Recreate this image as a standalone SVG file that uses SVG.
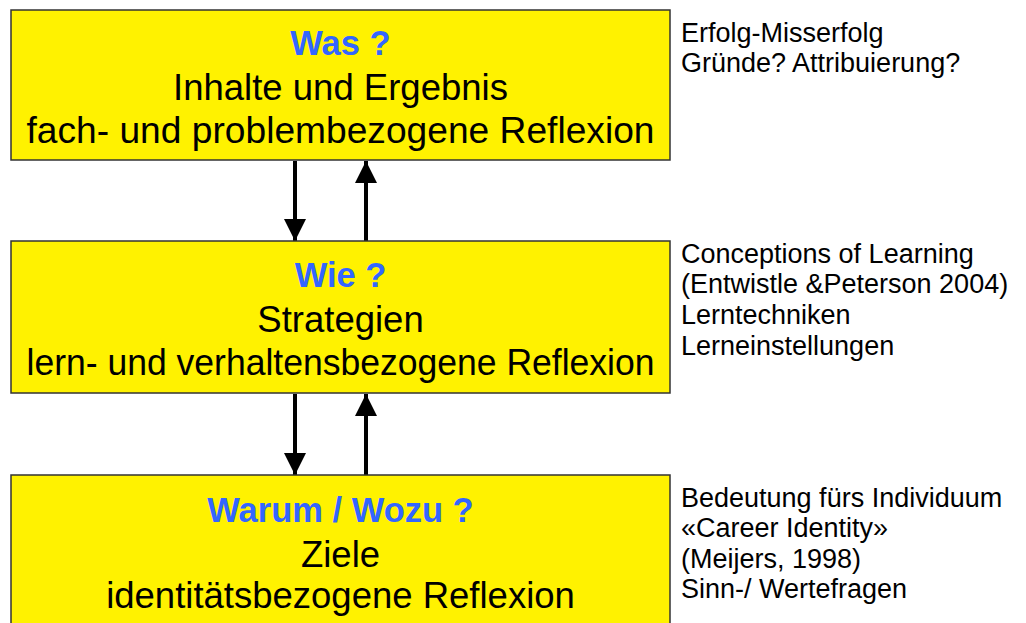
<svg xmlns="http://www.w3.org/2000/svg" width="1026" height="623" viewBox="0 0 1026 623">
<defs>
<style>
.box{fill:#FFF200;stroke:#333333;stroke-width:1.5}
.h{font-family:"Liberation Sans",Arial,sans-serif;font-weight:bold;font-size:34.5px;fill:#3366FF;text-anchor:middle}
.t{font-family:"Liberation Sans",Arial,sans-serif;font-size:36.5px;fill:#000;text-anchor:middle}
.n{font-family:"Liberation Sans",Arial,sans-serif;font-size:27px;fill:#000}
.c{stroke:#000;stroke-width:4;fill:none}
</style>
<marker id="ah" viewBox="0 0 22 22" refX="22" refY="11" markerWidth="22" markerHeight="22" markerUnits="userSpaceOnUse" orient="auto">
<path d="M0,0 L22,11 L0,22 Z" fill="#000"/>
</marker>
</defs>
<rect width="1026" height="623" fill="#fff"/>
<g id="connectors">
<line class="c" x1="295" y1="161" x2="295" y2="241" marker-end="url(#ah)"/>
<line class="c" x1="366" y1="241" x2="366" y2="161" marker-end="url(#ah)"/>
<line class="c" x1="295" y1="394" x2="295" y2="475" marker-end="url(#ah)"/>
<line class="c" x1="366" y1="475" x2="366" y2="394" marker-end="url(#ah)"/>
</g>
<g id="node-was">
<rect class="box" x="11" y="10" width="659" height="150"/>
<text class="h" x="340.5" y="55">Was ?</text>
<text class="t" x="340.5" y="100">Inhalte und Ergebnis</text>
<text class="t" x="340.5" y="143" textLength="628" lengthAdjust="spacingAndGlyphs">fach- und problembezogene Reflexion</text>
</g>
<g id="node-wie">
<rect class="box" x="11" y="241" width="659" height="152"/>
<text class="h" x="340.5" y="287">Wie ?</text>
<text class="t" x="340.5" y="332">Strategien</text>
<text class="t" x="340.5" y="375" textLength="628" lengthAdjust="spacingAndGlyphs">lern- und verhaltensbezogene Reflexion</text>
</g>
<g id="node-warum">
<rect class="box" x="11" y="475" width="659" height="160"/>
<text class="h" x="340.5" y="522">Warum / Wozu ?</text>
<text class="t" x="340.5" y="567">Ziele</text>
<text class="t" x="340.5" y="608">identitätsbezogene Reflexion</text>
</g>
<g id="note-was">
<text class="n" x="681" y="42">Erfolg-Misserfolg</text>
<text class="n" x="681" y="72">Gründe? Attribuierung?</text>
</g>
<g id="note-wie">
<text class="n" x="681" y="263">Conceptions of Learning</text>
<text class="n" x="681" y="293">(Entwistle &amp;Peterson 2004)</text>
<text class="n" x="681" y="324">Lerntechniken</text>
<text class="n" x="681" y="355">Lerneinstellungen</text>
</g>
<g id="note-warum">
<text class="n" x="681" y="507">Bedeutung fürs Individuum</text>
<text class="n" x="681" y="537">«Career Identity»</text>
<text class="n" x="681" y="568">(Meijers, 1998)</text>
<text class="n" x="681" y="598">Sinn-/ Wertefragen</text>
</g>
</svg>
